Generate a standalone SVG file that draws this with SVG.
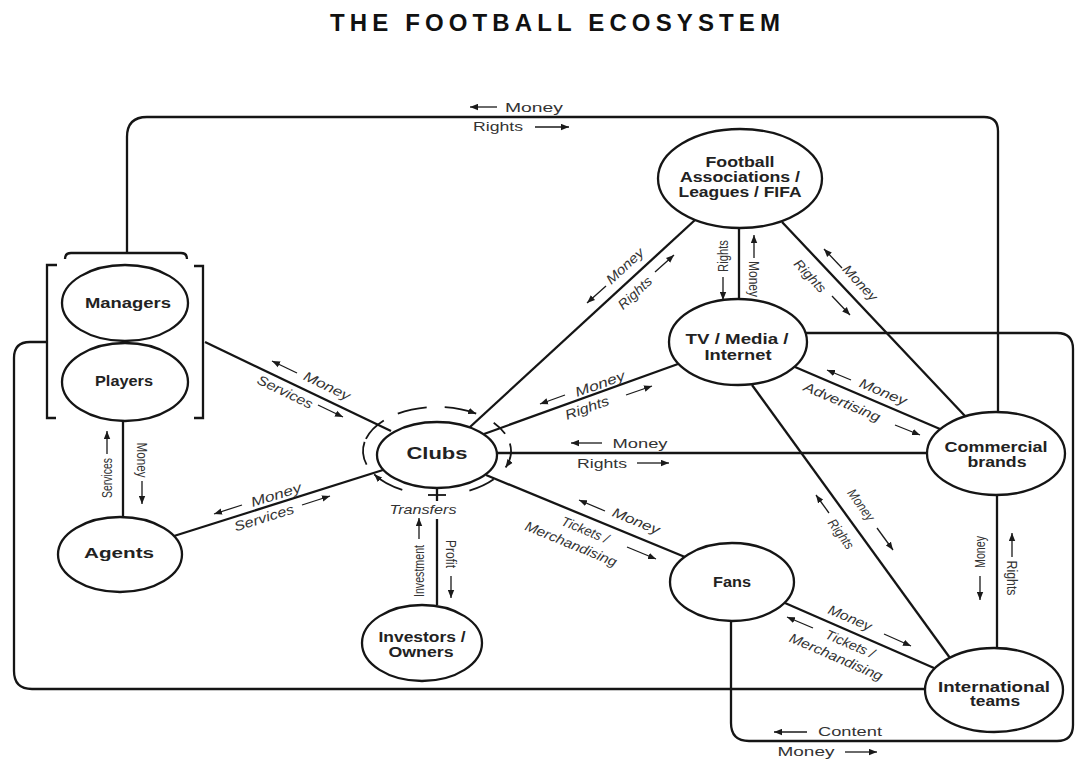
<svg xmlns="http://www.w3.org/2000/svg" width="1076" height="759" viewBox="0 0 1076 759">
<defs>
<marker id="ah" viewBox="0 0 10 8" refX="10" refY="4" markerWidth="8" markerHeight="7" markerUnits="userSpaceOnUse" orient="auto"><path d="M0,0 L10,4 L0,8 z" fill="#1a1a1a"/></marker>
<style>
.ln{fill:none;stroke:#151515;stroke-width:2.3}
.nd ellipse{fill:#fff;stroke:#151515;stroke-width:2.3}
.nt{font-family:"Liberation Sans",Arial,sans-serif;font-weight:bold;font-size:14px;fill:#222;text-anchor:middle}
.lb{font-family:"Liberation Sans",Arial,sans-serif;font-size:13.5px;fill:#333;text-anchor:middle}
.vt{font-size:15px}
.it{font-style:italic}
.ar{fill:none;stroke:#1a1a1a;stroke-width:1.3;marker-end:url(#ah)}
.rg{fill:none;stroke:#151515;stroke-width:1.8}
</style>
</defs>
<rect width="1076" height="759" fill="#fff"/>
<text x="555" y="31" font-family="Liberation Sans,Arial,sans-serif" font-weight="bold" font-size="24" fill="#111" text-anchor="middle" textLength="450" lengthAdjust="spacing">THE FOOTBALL ECOSYSTEM</text>

<g id="connectors">
<g class="ln">
<path d="M127,253 V137 Q127,117 147,117 H984 Q998,117 998,131 V412"/>
<path d="M47,342 H30 Q14,342 14,358 V671 Q14,689 32,689 H925"/>
<path d="M805,333 H1057 Q1073,333 1073,349 V725 Q1073,741 1057,741 H749 Q731,741 731,723 V621"/>
<path d="M205,342 L391,431"/>
<path d="M123,421 V517"/>
<path d="M174,536 L383,470"/>
<path d="M695,220 L470,427"/>
<path d="M739,228 V299"/>
<path d="M782,222 L965,416"/>
<path d="M678,364 L484,434"/>
<path d="M497,453 H927"/>
<path d="M486,475 L685,557"/>
<path d="M437,488 V501 M437,519 V605"/>
<path d="M795,367 L940,429"/>
<path d="M752,385 L950,658"/>
<path d="M997,495 V648"/>
<path d="M785,603 L934,668"/>
</g>
<g id="edge-labels">
<path class="ar" d="M497,107 L470,107"/>
<text class="lb" x="534" y="112" textLength="58" lengthAdjust="spacingAndGlyphs">Money</text>
<text class="lb" x="498" y="131" textLength="50" lengthAdjust="spacingAndGlyphs">Rights</text>
<path class="ar" d="M535,127 L569,127"/>
<path class="ar" d="M297,373 L272,361"/>
<text class="lb it" transform="translate(327,386) rotate(25.8)" y="4.5" textLength="50" lengthAdjust="spacingAndGlyphs">Money</text>
<text class="lb it" transform="translate(285,392) rotate(25.8)" y="4.5" textLength="60" lengthAdjust="spacingAndGlyphs">Services</text>
<path class="ar" d="M318,405 L343,417"/>
<path class="ar" d="M107,454 L107,431"/>
<text class="lb vt" transform="translate(107,478) rotate(-90)" y="5" textLength="40" lengthAdjust="spacingAndGlyphs">Services</text>
<text class="lb vt" transform="translate(142,460) rotate(90)" y="5" textLength="35" lengthAdjust="spacingAndGlyphs">Money</text>
<path class="ar" d="M142,481 L142,504"/>
<path class="ar" d="M242,505 L214,514"/>
<text class="lb it" transform="translate(276,495) rotate(-17.5)" y="4.5" textLength="52" lengthAdjust="spacingAndGlyphs">Money</text>
<text class="lb it" transform="translate(264,518) rotate(-17.5)" y="4.5" textLength="62" lengthAdjust="spacingAndGlyphs">Services</text>
<path class="ar" d="M302,505 L330,496"/>
<path class="ar" d="M606,286 L587,303"/>
<text class="lb it" transform="translate(625,266) rotate(-42.8)" y="4.5" textLength="46" lengthAdjust="spacingAndGlyphs">Money</text>
<text class="lb it" transform="translate(635,293) rotate(-42.8)" y="4.5" textLength="41" lengthAdjust="spacingAndGlyphs">Rights</text>
<path class="ar" d="M655,272 L674,255"/>
<text class="lb vt" transform="translate(723,256) rotate(-90)" y="5" textLength="32" lengthAdjust="spacingAndGlyphs">Rights</text>
<path class="ar" d="M723,277 L723,300"/>
<path class="ar" d="M754,258 L754,235"/>
<text class="lb vt" transform="translate(754,279) rotate(90)" y="5" textLength="36" lengthAdjust="spacingAndGlyphs">Money</text>
<path class="ar" d="M842,268 L824,249"/>
<text class="lb it" transform="translate(860,283) rotate(46.7)" y="4.5" textLength="44" lengthAdjust="spacingAndGlyphs">Money</text>
<text class="lb it" transform="translate(810,276) rotate(46.7)" y="4.5" textLength="40" lengthAdjust="spacingAndGlyphs">Rights</text>
<path class="ar" d="M832,296 L850,315"/>
<path class="ar" d="M565,395 L540,404"/>
<text class="lb it" transform="translate(600,384) rotate(-19.9)" y="4.5" textLength="52" lengthAdjust="spacingAndGlyphs">Money</text>
<text class="lb it" transform="translate(587,408) rotate(-19.9)" y="4.5" textLength="46" lengthAdjust="spacingAndGlyphs">Rights</text>
<path class="ar" d="M626,395 L652,386"/>
<path class="ar" d="M602,443 L571,443"/>
<text class="lb" x="640" y="448" textLength="55" lengthAdjust="spacingAndGlyphs">Money</text>
<text class="lb" x="602" y="468" textLength="50" lengthAdjust="spacingAndGlyphs">Rights</text>
<path class="ar" d="M637,463 L669,463"/>
<path class="ar" d="M605,511 L579,500"/>
<text class="lb it" transform="translate(636,521) rotate(22.4)" y="4.5" textLength="50" lengthAdjust="spacingAndGlyphs">Money</text>
<text class="lb it" transform="translate(585,530) rotate(22.4)" y="4.5" textLength="50" lengthAdjust="spacingAndGlyphs">Tickets /</text>
<text class="lb it" transform="translate(571,544) rotate(22.4)" y="4.5" textLength="98" lengthAdjust="spacingAndGlyphs">Merchandising</text>
<path class="ar" d="M627,547 L656,559"/>
<text class="lb it" x="423" y="514" textLength="67" lengthAdjust="spacingAndGlyphs">Transfers</text>
<path class="ar" d="M419,539 L419,518"/>
<text class="lb vt" transform="translate(419,571) rotate(-90)" y="5" textLength="52" lengthAdjust="spacingAndGlyphs">Investment</text>
<text class="lb vt" transform="translate(451,554) rotate(90)" y="5" textLength="28" lengthAdjust="spacingAndGlyphs">Profit</text>
<path class="ar" d="M451,576 L451,598"/>
<path class="ar" d="M851,380 L827,370"/>
<text class="lb it" transform="translate(883,392) rotate(22.7)" y="4.5" textLength="50" lengthAdjust="spacingAndGlyphs">Money</text>
<text class="lb it" transform="translate(842,402) rotate(22.7)" y="4.5" textLength="82" lengthAdjust="spacingAndGlyphs">Advertising</text>
<path class="ar" d="M895,425 L920,435"/>
<text class="lb it" transform="translate(861,505) rotate(54)" y="4.5" textLength="36" lengthAdjust="spacingAndGlyphs">Money</text>
<path class="ar" d="M877,528 L893,550"/>
<path class="ar" d="M829,513 L816,495"/>
<text class="lb it" transform="translate(841,534) rotate(54)" y="4.5" textLength="34" lengthAdjust="spacingAndGlyphs">Rights</text>
<text class="lb vt" transform="translate(980,552) rotate(-90)" y="5" textLength="32" lengthAdjust="spacingAndGlyphs">Money</text>
<path class="ar" d="M980,576 L980,600"/>
<path class="ar" d="M1012,557 L1012,533"/>
<text class="lb vt" transform="translate(1012,578) rotate(90)" y="5" textLength="35" lengthAdjust="spacingAndGlyphs">Rights</text>
<text class="lb it" transform="translate(850,618) rotate(23.4)" y="4.5" textLength="46" lengthAdjust="spacingAndGlyphs">Money</text>
<path class="ar" d="M884,634 L911,646"/>
<path class="ar" d="M813,628 L787,617"/>
<text class="lb it" transform="translate(850,644) rotate(23.4)" y="4.5" textLength="52" lengthAdjust="spacingAndGlyphs">Tickets /</text>
<text class="lb it" transform="translate(836,657) rotate(23.4)" y="4.5" textLength="100" lengthAdjust="spacingAndGlyphs">Merchandising</text>
<path class="ar" d="M807,732 L774,732"/>
<text class="lb" x="850" y="736" textLength="64" lengthAdjust="spacingAndGlyphs">Content</text>
<text class="lb" x="806" y="756" textLength="57" lengthAdjust="spacingAndGlyphs">Money</text>
<path class="ar" d="M845,752 L877,752"/>
</g>
</g>

<g id="staff" class="nd">
<path class="ln" d="M65,259 Q65,253 71,253 H181 Q187,253 187,259"/>
<path class="ln" d="M57,265 H47 V418 H56"/>
<path class="ln" d="M194,266 H203 V418 H194"/>
<g id="managers"><ellipse cx="125" cy="303" rx="63" ry="38"/><text class="nt" x="128" y="308" textLength="86" lengthAdjust="spacingAndGlyphs">Managers</text></g>
<g id="players"><ellipse cx="125" cy="382" rx="63" ry="39"/><text class="nt" x="124" y="386" textLength="58" lengthAdjust="spacingAndGlyphs">Players</text></g>
</g>
<g id="agents" class="nd"><ellipse cx="120" cy="554.5" rx="62" ry="37.5"/><text class="nt" x="119" y="558" textLength="70" lengthAdjust="spacingAndGlyphs">Agents</text></g>
<g id="clubs" class="nd">
<ellipse cx="437" cy="455" rx="60" ry="33"/>
<text class="nt" x="437" y="459" textLength="61" lengthAdjust="spacingAndGlyphs" style="font-size:17px">Clubs</text>
<path class="rg" marker-end="url(#ah)" d="M402.3,489.8 A74,44 0 0 1 374.2,474.3"/>
<path class="rg" d="M366.6,464.6 A74,44 0 0 1 364.6,441.9"/>
<path class="rg" d="M365.9,438.9 A74,44 0 0 1 383.8,420.4"/>
<path class="rg" d="M397.8,413.7 A74,44 0 0 1 426.7,407.4"/>
<path class="rg" marker-end="url(#ah)" d="M444.7,407.2 A74,44 0 0 1 476.2,413.7"/>
<path class="rg" d="M493.7,422.7 A74,44 0 0 1 505.1,433.8"/>
<path class="rg" marker-end="url(#ah)" d="M509.9,443.4 A74,44 0 0 1 505.6,467.5"/>
<path class="rg" d="M493.7,479.3 A74,44 0 0 1 469.4,490.6"/>
<path class="rg" d="M428,495 H446"/>
</g>
<g id="investors" class="nd"><ellipse cx="422" cy="643" rx="60" ry="38"/><text class="nt" x="422" y="642" textLength="87" lengthAdjust="spacingAndGlyphs">Investors /</text><text class="nt" x="421" y="657" textLength="65" lengthAdjust="spacingAndGlyphs">Owners</text></g>
<g id="fa" class="nd"><ellipse cx="740" cy="178.5" rx="82" ry="49.5"/><text class="nt" x="740" y="167" textLength="69" lengthAdjust="spacingAndGlyphs">Football</text><text class="nt" x="740" y="182" textLength="120" lengthAdjust="spacingAndGlyphs">Associations /</text><text class="nt" x="740" y="197" textLength="123" lengthAdjust="spacingAndGlyphs">Leagues / FIFA</text></g>
<g id="tv" class="nd"><ellipse cx="738" cy="342" rx="69" ry="43"/><text class="nt" x="737" y="344" textLength="103" lengthAdjust="spacingAndGlyphs">TV / Media /</text><text class="nt" x="738" y="360" textLength="67" lengthAdjust="spacingAndGlyphs">Internet</text></g>
<g id="fans" class="nd"><ellipse cx="732" cy="582" rx="62" ry="39"/><text class="nt" x="732" y="587" textLength="38" lengthAdjust="spacingAndGlyphs">Fans</text></g>
<g id="commercial" class="nd"><ellipse cx="996" cy="453.5" rx="69" ry="41.5"/><text class="nt" x="996" y="452" textLength="103" lengthAdjust="spacingAndGlyphs">Commercial</text><text class="nt" x="997" y="467" textLength="59" lengthAdjust="spacingAndGlyphs">brands</text></g>
<g id="international" class="nd"><ellipse cx="994" cy="690" rx="69" ry="42"/><text class="nt" x="994" y="692" textLength="112" lengthAdjust="spacingAndGlyphs">International</text><text class="nt" x="995" y="706" textLength="50" lengthAdjust="spacingAndGlyphs">teams</text></g>
</svg>
